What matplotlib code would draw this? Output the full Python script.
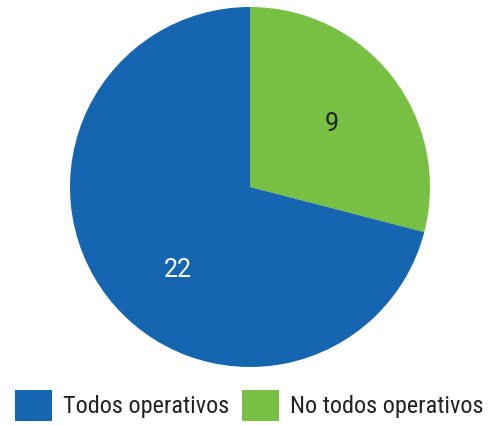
import matplotlib
matplotlib.use("Agg")
import matplotlib.pyplot as plt
from matplotlib.patches import Patch
import numpy as np

categories = ["Todos operativos", "No todos operativos"]
values = [22, 9]
colors = ["#1565B0", "#77C043"]
label_colors = ["white", "#222222"]

plt.rcParams["font.family"] = ["Roboto Condensed", "DejaVu Sans"]

fig = plt.figure(figsize=(4.9, 4.25), dpi=100)
ax = fig.add_axes([70/490, 58/425, 360/490, 360/425])
wedges, texts = ax.pie(values[::-1], colors=colors[::-1], startangle=90, counterclock=False,
                       labels=[str(v) for v in values[::-1]], labeldistance=0.57,
                       wedgeprops=dict(linewidth=0))
# label placement: (radius, angle offset in degrees) for green, blue
place = [(0.575, 0.0), (0.61, 11.0)]
for t, c, w, (r, off) in zip(texts, label_colors[::-1], wedges, place):
    t.set_color(c)
    t.set_fontsize(18)
    t.set_family(["Roboto", "DejaVu Sans"])
    t.set_ha("center"); t.set_va("center")
    ang = np.deg2rad((w.theta1 + w.theta2) / 2 + off)
    t.set_position((r * np.cos(ang), r * np.sin(ang)))
ax.set_xlim(-1, 1); ax.set_ylim(-1, 1)
ax.set_aspect("equal")
ax.axis("off")

handles = [Patch(facecolor=c, edgecolor="none") for c in colors]
fig.legend(handles, categories, loc="lower left", bbox_to_anchor=(-0.005, -0.03), ncol=2,
           frameon=False, fontsize=17.5, handlelength=1.55, handleheight=1.6,
           handletextpad=0.45, columnspacing=0.5, borderpad=0.2, labelcolor="#222222")
fig.savefig("out.png", dpi=100)
